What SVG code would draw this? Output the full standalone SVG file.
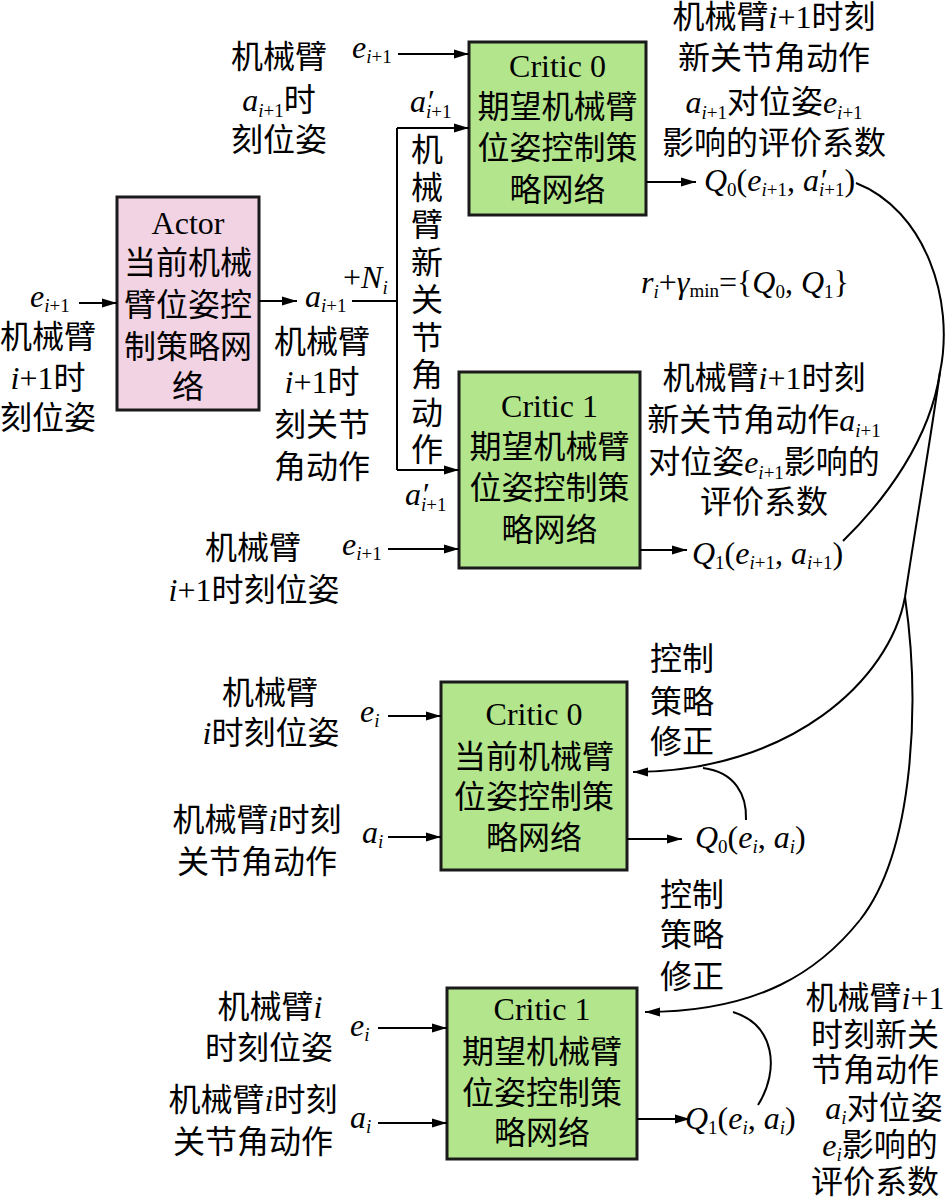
<svg xmlns="http://www.w3.org/2000/svg" width="948" height="1199" viewBox="0 0 948 1199">
<style>
text{font-family:"Liberation Serif","Noto Sans CJK SC",serif;font-size:32px;fill:#000;}
.c{text-anchor:middle;}
.v{font-style:italic;}
.s{font-size:19px;}
.box{stroke:#1a1a1a;stroke-width:3;}
.g{fill:#b3e68c;}
.p{fill:#f2d3e4;}
.ln{fill:none;stroke:#000;stroke-width:2;}
.ar{marker-end:url(#ah);}
</style>
<defs>
<marker id="ah" markerWidth="16" markerHeight="10" refX="15" refY="5" orient="auto" markerUnits="userSpaceOnUse">
<path d="M0,0.5 L15,5 L0,9.5 z" fill="#000"/>
</marker>
</defs>
<rect width="948" height="1199" fill="#fff"/>

<g id="actor">
<rect class="box p" x="117" y="197" width="142" height="213"/>
<text class="c" x="188" y="234">Actor</text>
<text class="c" x="188" y="274">当前机械</text>
<text class="c" x="188" y="316">臂位姿控</text>
<text class="c" x="188" y="358">制策略网</text>
<text class="c" x="188" y="398">络</text>
</g>

<g id="critic0-target">
<rect class="box g" x="469" y="42" width="177" height="173"/>
<text class="c" x="557.5" y="77">Critic 0</text>
<text class="c" x="557.5" y="118">期望机械臂</text>
<text class="c" x="557.5" y="159">位姿控制策</text>
<text class="c" x="557.5" y="201">略网络</text>
</g>

<g id="critic1-target">
<rect class="box g" x="459" y="372" width="181" height="196"/>
<text class="c" x="549.5" y="417">Critic 1</text>
<text class="c" x="549.5" y="458">期望机械臂</text>
<text class="c" x="549.5" y="499">位姿控制策</text>
<text class="c" x="549.5" y="541">略网络</text>
</g>

<g id="critic0-current">
<rect class="box g" x="441" y="682" width="186" height="188"/>
<text class="c" x="534" y="725">Critic 0</text>
<text class="c" x="534" y="768">当前机械臂</text>
<text class="c" x="534" y="808">位姿控制策</text>
<text class="c" x="534" y="849">略网络</text>
</g>

<g id="critic1-bottom">
<rect class="box g" x="447" y="988" width="190" height="171"/>
<text class="c" x="542" y="1020">Critic 1</text>
<text class="c" x="542" y="1063">期望机械臂</text>
<text class="c" x="542" y="1104">位姿控制策</text>
<text class="c" x="542" y="1144">略网络</text>
</g>

<g id="connectors">
<path class="ln ar" d="M79,303 H117"/>
<path class="ln ar" d="M259,301 H297"/>
<path class="ln" d="M352,301 H397"/>
<path class="ln" d="M397,128 V470"/>
<path class="ln ar" d="M397,128 H469"/>
<path class="ln ar" d="M397,470 H459"/>
<path class="ln ar" d="M398,54 H469"/>
<path class="ln ar" d="M388,549 H459"/>
<path class="ln ar" d="M646,182 H696"/>
<path class="ln ar" d="M640,550 H687"/>
<path class="ln ar" d="M388,716 H441"/>
<path class="ln ar" d="M388,837 H441"/>
<path class="ln ar" d="M627,839 H682"/>
<path class="ln ar" d="M378,1028 H447"/>
<path class="ln ar" d="M378,1123 H447"/>
<path class="ln ar" d="M637,1119 H690"/>
<path class="ln" d="M856,183 C925,210 955,300 940,372 C932,430 915,530 905,597"/>
<path class="ln" d="M843,541 C885,500 930,440 940,372"/>
<path class="ln ar" d="M905,597 C890,680 790,772 633,772"/>
<path class="ln" d="M905,597 C920,700 915,850 860,920"/>
<path class="ln ar" d="M860,920 C820,970 760,1012 645,1012"/>
<path class="ln" d="M746,820 C747,795 735,772 703,768"/>
<path class="ln" d="M758,1105 C780,1070 775,1025 733,1012"/>
</g>

<g id="labels">
<text class="c" x="279" y="68">机械臂</text>
<text class="c" x="279" y="111"><tspan class="v">a</tspan><tspan class="s" dy="6"><tspan class="v">i</tspan>+1</tspan><tspan dy="-6">时</tspan></text>
<text class="c" x="279" y="151">刻位姿</text>

<text x="352" y="58"><tspan class="v">e</tspan><tspan class="s" dy="5"><tspan class="v">i</tspan>+1</tspan></text>
<text x="410" y="112"><tspan class="v">a</tspan><tspan class="v">′</tspan><tspan class="s" dx="-7" dy="6"><tspan class="v">i</tspan>+1</tspan></text>

<text class="c" x="427" y="161">机</text>
<text class="c" x="427" y="198.5">械</text>
<text class="c" x="427" y="236">臂</text>
<text class="c" x="427" y="273.5">新</text>
<text class="c" x="427" y="311">关</text>
<text class="c" x="427" y="348.5">节</text>
<text class="c" x="427" y="386">角</text>
<text class="c" x="427" y="423.5">动</text>
<text class="c" x="427" y="461">作</text>

<text x="343" y="288">+<tspan class="v">N</tspan><tspan class="s v" dy="6">i</tspan></text>
<text x="305" y="307"><tspan class="v">a</tspan><tspan class="s" dy="5"><tspan class="v">i</tspan>+1</tspan></text>

<text x="30" y="307"><tspan class="v">e</tspan><tspan class="s" dy="5"><tspan class="v">i</tspan>+1</tspan></text>
<text class="c" x="48" y="348">机械臂</text>
<text class="c" x="48" y="389"><tspan class="v">i</tspan>+1时</text>
<text class="c" x="48" y="429">刻位姿</text>

<text class="c" x="322" y="353">机械臂</text>
<text class="c" x="322" y="393"><tspan class="v">i</tspan>+1时</text>
<text class="c" x="322" y="436">刻关节</text>
<text class="c" x="322" y="478">角动作</text>

<text x="405" y="505"><tspan class="v">a</tspan><tspan class="v">′</tspan><tspan class="s" dx="-7" dy="6"><tspan class="v">i</tspan>+1</tspan></text>

<text class="c" x="253" y="559">机械臂</text>
<text class="c" x="254" y="601"><tspan class="v">i</tspan>+1时刻位姿</text>
<text x="342" y="555"><tspan class="v">e</tspan><tspan class="s" dy="5"><tspan class="v">i</tspan>+1</tspan></text>

<text class="c" x="774" y="28">机械臂<tspan class="v">i</tspan>+1时刻</text>
<text class="c" x="774" y="69">新关节角动作</text>
<text class="c" x="774" y="113"><tspan class="v">a</tspan><tspan class="s" dy="6"><tspan class="v">i</tspan>+1</tspan><tspan dy="-6">对位姿</tspan><tspan class="v">e</tspan><tspan class="s" dy="6"><tspan class="v">i</tspan>+1</tspan></text>
<text class="c" x="774" y="154">影响的评价系数</text>

<text x="704" y="191"><tspan class="v">Q</tspan><tspan class="s" dy="5">0</tspan><tspan dy="-5">(</tspan><tspan class="v">e</tspan><tspan class="s" dy="5"><tspan class="v">i</tspan>+1</tspan><tspan dy="-5">, </tspan><tspan class="v">a</tspan><tspan class="v">′</tspan><tspan class="s" dx="-7" dy="5"><tspan class="v">i</tspan>+1</tspan><tspan dy="-5">)</tspan></text>

<text x="641" y="293"><tspan class="v">r</tspan><tspan class="s v" dy="5">i</tspan><tspan dy="-5">+</tspan><tspan class="v">γ</tspan><tspan class="s" dy="4">min</tspan><tspan dy="-4">={</tspan><tspan class="v">Q</tspan><tspan class="s" dy="5">0</tspan><tspan dy="-5">, </tspan><tspan class="v">Q</tspan><tspan class="s" dy="5">1</tspan><tspan dy="-5">}</tspan></text>

<text class="c" x="764" y="389">机械臂<tspan class="v">i</tspan>+1时刻</text>
<text class="c" x="764" y="431">新关节角动作<tspan class="v">a</tspan><tspan class="s" dy="6"><tspan class="v">i</tspan>+1</tspan></text>
<text class="c" x="764" y="473">对位姿<tspan class="v">e</tspan><tspan class="s" dy="6"><tspan class="v">i</tspan>+1</tspan><tspan dy="-6">影响的</tspan></text>
<text class="c" x="764" y="513">评价系数</text>

<text x="692" y="564"><tspan class="v">Q</tspan><tspan class="s" dy="5">1</tspan><tspan dy="-5">(</tspan><tspan class="v">e</tspan><tspan class="s" dy="5"><tspan class="v">i</tspan>+1</tspan><tspan dy="-5">, </tspan><tspan class="v">a</tspan><tspan class="s" dy="5"><tspan class="v">i</tspan>+1</tspan><tspan dy="-5">)</tspan></text>

<text class="c" x="270" y="704">机械臂</text>
<text class="c" x="271" y="744"><tspan class="v">i</tspan>时刻位姿</text>
<text x="360" y="722"><tspan class="v">e</tspan><tspan class="s v" dy="5">i</tspan></text>
<text class="c" x="257" y="831">机械臂<tspan class="v">i</tspan>时刻</text>
<text class="c" x="257" y="873">关节角动作</text>
<text x="362" y="843"><tspan class="v">a</tspan><tspan class="s v" dy="5">i</tspan></text>

<text class="c" x="682" y="670">控制</text>
<text class="c" x="682" y="713">策略</text>
<text class="c" x="682" y="753">修正</text>
<text x="695" y="848"><tspan class="v">Q</tspan><tspan class="s" dy="5">0</tspan><tspan dy="-5">(</tspan><tspan class="v">e</tspan><tspan class="s v" dy="5">i</tspan><tspan dy="-5">, </tspan><tspan class="v">a</tspan><tspan class="s v" dy="5">i</tspan><tspan dy="-5">)</tspan></text>

<text class="c" x="270" y="1018">机械臂<tspan class="v">i</tspan></text>
<text class="c" x="269" y="1059">时刻位姿</text>
<text x="350" y="1036"><tspan class="v">e</tspan><tspan class="s v" dy="5">i</tspan></text>
<text class="c" x="253" y="1111">机械臂<tspan class="v">i</tspan>时刻</text>
<text class="c" x="253" y="1153">关节角动作</text>
<text x="350" y="1128"><tspan class="v">a</tspan><tspan class="s v" dy="5">i</tspan></text>

<text class="c" x="692" y="906">控制</text>
<text class="c" x="692" y="946">策略</text>
<text class="c" x="692" y="988">修正</text>
<text x="685" y="1129"><tspan class="v">Q</tspan><tspan class="s" dy="5">1</tspan><tspan dy="-5">(</tspan><tspan class="v">e</tspan><tspan class="s v" dy="5">i</tspan><tspan dy="-5">, </tspan><tspan class="v">a</tspan><tspan class="s v" dy="5">i</tspan><tspan dy="-5">)</tspan></text>

<text class="c" x="875" y="1009">机械臂<tspan class="v">i</tspan>+1</text>
<text class="c" x="875" y="1046">时刻新关</text>
<text class="c" x="875" y="1081">节角动作</text>
<text class="c" x="884" y="1119"><tspan class="v">a</tspan><tspan class="s v" dy="5">i</tspan><tspan dy="-5">对位姿</tspan></text>
<text class="c" x="880" y="1156"><tspan class="v">e</tspan><tspan class="s v" dy="5">i</tspan><tspan dy="-5">影响的</tspan></text>
<text class="c" x="875" y="1193">评价系数</text>
</g>
</svg>
